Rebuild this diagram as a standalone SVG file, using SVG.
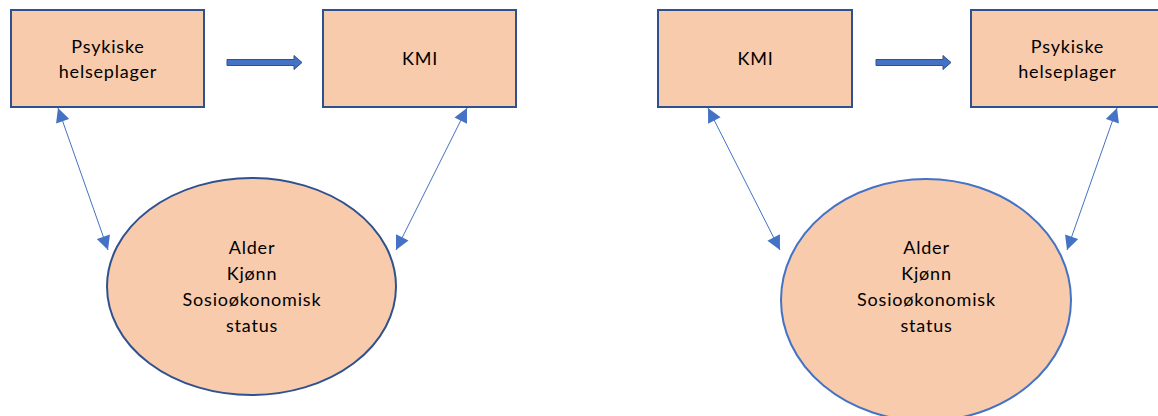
<svg xmlns="http://www.w3.org/2000/svg" width="1158" height="416" viewBox="0 0 1158 416">
<defs>
<style>
.box{fill:#F8CBAD;stroke:#2F528F;stroke-width:2}
.ell1{fill:#F8CBAD;stroke:#2F528F;stroke-width:2}
.ell2{fill:#F8CBAD;stroke:#4472C4;stroke-width:2}
.t{font-family:Lato,"Liberation Sans",sans-serif;font-size:18px;letter-spacing:0.8px;fill:#000;text-anchor:middle}
.thin{stroke:#4472C4;stroke-width:1;fill:none;marker-start:url(#ah);marker-end:url(#ah)}
.block{fill:#4472C4;stroke:#2F528F;stroke-width:1}
</style>
<marker id="ah" viewBox="0 0 10 10" refX="10" refY="5" markerWidth="16" markerHeight="14" markerUnits="userSpaceOnUse" orient="auto-start-reverse">
<path d="M0,0 L10,5 L0,10 Z" fill="#4472C4"/>
</marker>
</defs>
<rect width="1158" height="416" fill="#fff"/>
<g id="left-psykiske"><rect class="box" x="11" y="10" width="193" height="97"/><text class="t" x="108" y="53">Psykiske</text><text class="t" x="108" y="78">helseplager</text></g>
<g id="left-kmi"><rect class="box" x="323" y="10" width="193" height="97"/><text class="t" x="420" y="65">KMI</text></g>
<g id="left-covariates"><ellipse class="ell1" cx="251.5" cy="286.5" rx="144.5" ry="108.5"/><text class="t" x="252" y="254">Alder</text><text class="t" x="252" y="280">Kjønn</text><text class="t" x="252" y="306">Sosioøkonomisk</text><text class="t" x="252" y="332">status</text></g>
<g id="right-kmi"><rect class="box" x="658" y="10" width="194" height="97"/><text class="t" x="755.5" y="65">KMI</text></g>
<g id="right-psykiske"><rect class="box" x="971" y="10" width="194" height="97"/><text class="t" x="1067.5" y="53">Psykiske</text><text class="t" x="1067.5" y="78">helseplager</text></g>
<g id="right-covariates"><ellipse class="ell2" cx="926" cy="300" rx="145" ry="121"/><text class="t" x="926.5" y="254">Alder</text><text class="t" x="926.5" y="280">Kjønn</text><text class="t" x="926.5" y="306">Sosioøkonomisk</text><text class="t" x="926.5" y="332">status</text></g>
<g id="connectors">
<path class="block" d="M227,59.5 L294,59.5 L294,55.5 L302,62.5 L294,69.5 L294,65.5 L227,65.5 Z"/>
<path class="block" d="M876,59.5 L943,59.5 L943,55.5 L951,62.5 L943,69.5 L943,65.5 L876,65.5 Z"/>
<line class="thin" x1="58" y1="108" x2="108" y2="250"/>
<line class="thin" x1="467" y1="108" x2="396" y2="250"/>
<line class="thin" x1="708" y1="108" x2="780" y2="250"/>
<line class="thin" x1="1117" y1="108" x2="1067" y2="250"/>
</g>
</svg>
